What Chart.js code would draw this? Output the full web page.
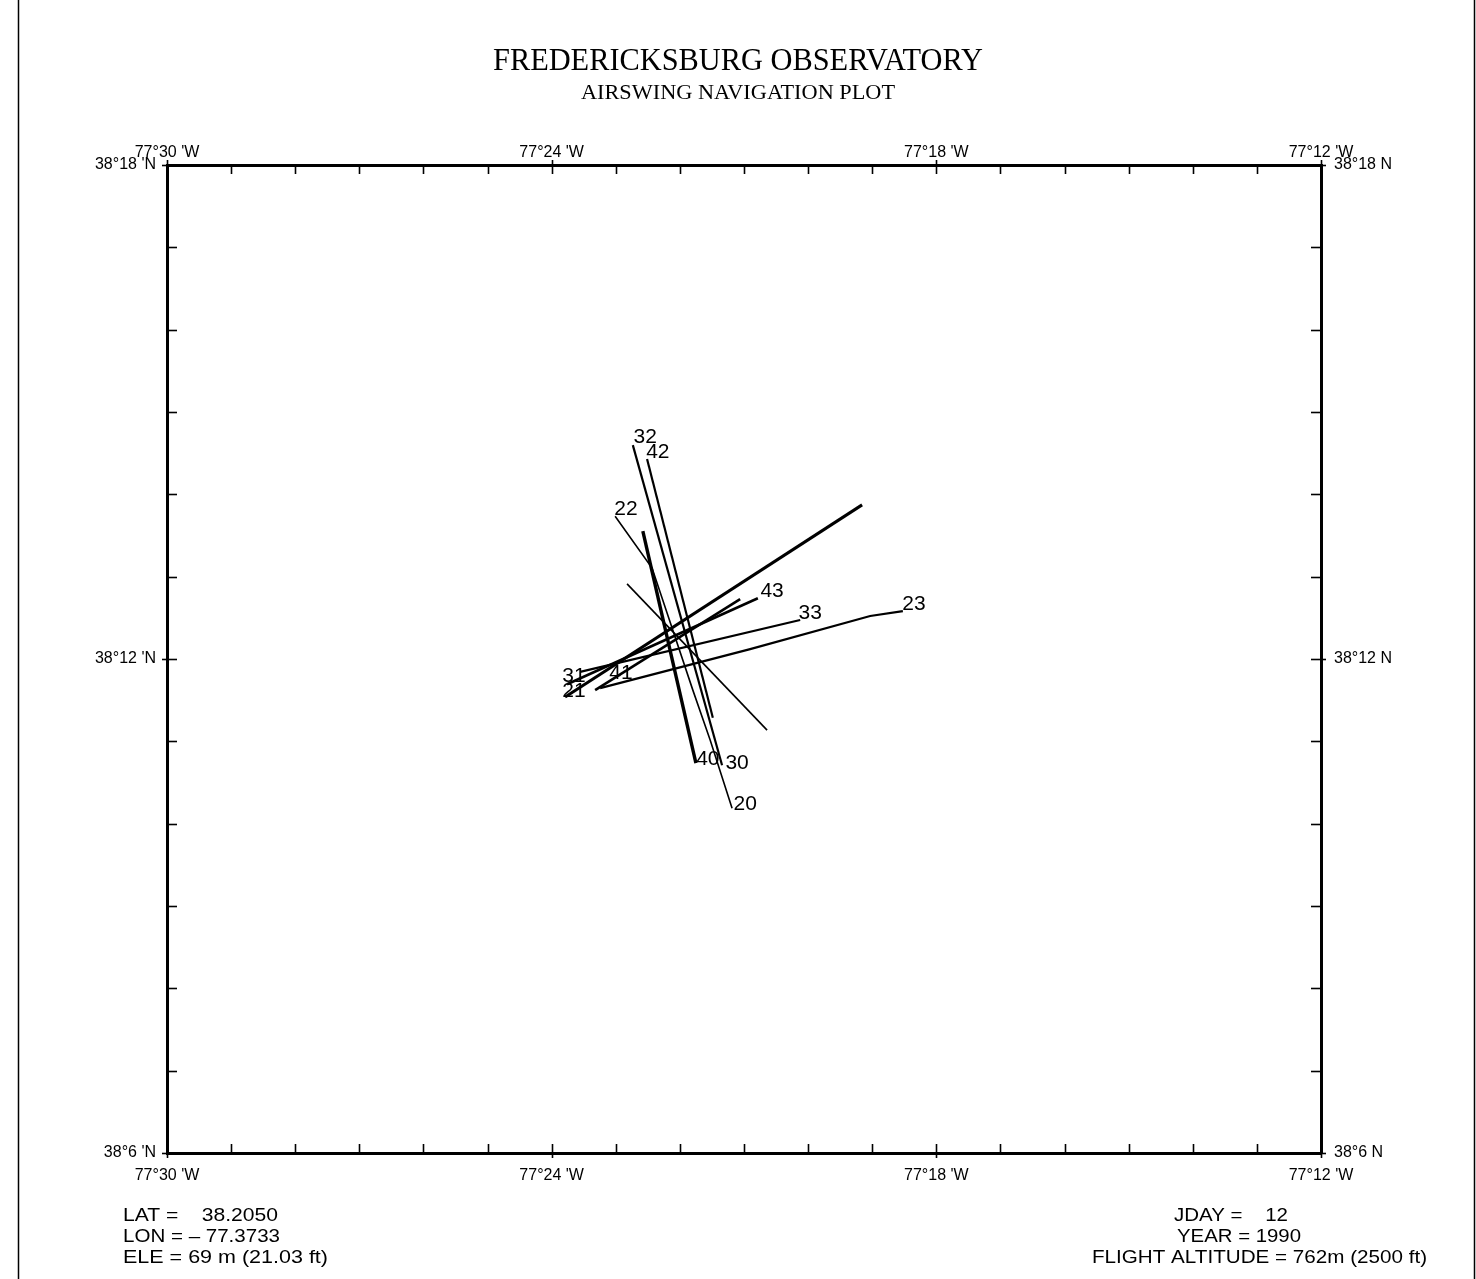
<!DOCTYPE html>
<html>
<head>
<meta charset="utf-8">
<title>Fredericksburg Observatory - Airswing Navigation Plot</title>
<script src="https://cdn.jsdelivr.net/npm/chart.js@4.4.1/dist/chart.umd.min.js"></script>
<style>
  html, body { margin: 0; padding: 0; background: #fff; }
  #wrap { position: relative; width: 1476px; height: 1279px; }
</style>
</head>
<body>
<div id="wrap"><canvas id="nav"></canvas></div>
<script>
// flight legs as [lon, lat] in decimal degrees (west is negative)
const leg20_22 = [[-77.3835, 38.2289], [-77.3739, 38.2184], [-77.3633, 38.1937], [-77.3588, 38.1836], [-77.3531, 38.1698]];
const leg23 = [[-77.3874, 38.1941], [-77.3484, 38.2020], [-77.3172, 38.2087], [-77.3087, 38.2097]];
const leg30_32 = [[-77.3789, 38.2433], [-77.3557, 38.1785]];
const leg31 = [[-77.3965, 38.1923], [-77.3193, 38.2312]];
const leg33 = [[-77.3926, 38.1974], [-77.3354, 38.2079]];
const leg40 = [[-77.3763, 38.2259], [-77.3625, 38.1789]];
const leg41 = [[-77.3887, 38.1937], [-77.3510, 38.2121]];
const leg42 = [[-77.3752, 38.2405], [-77.3581, 38.1881]];
const leg43 = [[-77.3960, 38.1949], [-77.3464, 38.2123]];
const legCross = [[-77.3804, 38.2152], [-77.3440, 38.1856]];

// leg numbers written on the plot
const legLabelText = ["32", "42", "22", "43", "33", "23", "40", "30", "20", "31", "21", "41"];
const legLabelLon = [-77.3757, -77.3724, -77.3807, -77.3427, -77.3328, -77.3058, -77.3594, -77.3518, -77.3497, -77.3942, -77.3942, -77.3820];
const legLabelLat = [38.2449, 38.2419, 38.2304, 38.2138, 38.2093, 38.2111, 38.1798, 38.1789, 38.1706, 38.1966, 38.1935, 38.1972];

// axis range and tick labels (one tick per arc minute, label every 6')
const lonMin = -77.5, lonMax = -77.2;
const latMin = 38.1, latMax = 38.3;
const lonTickLabels = ["77°30 'W", "77°24 'W", "77°18 'W", "77°12 'W"];
const latTickLabelsLeft = ["38°6 'N", "38°12 'N", "38°18 'N"];
const latTickLabelsRight = ["38°6 N", "38°12 N", "38°18 N"];

const headerLines = ["FREDERICKSBURG OBSERVATORY", "AIRSWING NAVIGATION PLOT"];
const footerLeft = ["LAT =    38.2050", "LON = \u2013 77.3733", "ELE = 69 m (21.03 ft)"];
const footerRight = ["JDAY =    12", "YEAR = 1990", "FLIGHT ALTITUDE = 762m (2500 ft)"];

const legs = [
    { data: leg20_22, width: 1.6 },
    { data: leg23, width: 2.2 },
    { data: leg30_32, width: 2.2 },
    { data: leg31, width: 3 },
    { data: leg33, width: 2.2 },
    { data: leg40, width: 3.4 },
    { data: leg41, width: 2.6 },
    { data: leg42, width: 2.2 },
    { data: leg43, width: 2.6 },
    { data: legCross, width: 1.6 },
];

function minuteTicks(min, count) {
    const t = [];
    for (let i = 0; i <= count; i++) t.push({ value: min + i / 60 });
    return t;
}

const tickFont = { family: "Liberation Sans", size: 16 };

function axis(position, min, max, count, labels, size, padding) {
    const horizontal = position === "top" || position === "bottom";
    return {
        type: "linear",
        position: position,
        min: min,
        max: max,
        afterBuildTicks: (s) => { s.ticks = minuteTicks(min, count); },
        afterFit: (s) => { if (horizontal) s.height = size; else s.width = size; },
        grid: { display: false },
        border: { display: true, color: "#000", width: 3 },
        ticks: {
            autoSkip: false,
            maxRotation: 0,
            padding: padding,
            color: "#000",
            font: tickFont,
            callback: (v, i) => (i % 6 === 0 ? labels[i / 6] : ""),
        },
    };
}

// short tick marks pointing into the plot frame
const inwardTicks = {
    id: "inwardTicks",
    afterDraw(chart) {
        const { ctx, chartArea: a } = chart;
        ctx.save();
        ctx.strokeStyle = "#000";
        ctx.lineWidth = 1.6;
        ["x", "x2", "y", "y2"].forEach((id) => {
            const s = chart.scales[id];
            s.ticks.forEach((t, i) => {
                const p = Math.round(s.getPixelForValue(t.value)) + 0.5;
                const out = i % 6 === 0 ? 5 : 0;
                ctx.beginPath();
                if (id === "x2") { ctx.moveTo(p, a.top - out); ctx.lineTo(p, a.top + 9); }
                if (id === "x") { ctx.moveTo(p, a.bottom + out); ctx.lineTo(p, a.bottom - 9); }
                if (id === "y") { ctx.moveTo(a.left - out, p); ctx.lineTo(a.left + 10, p); }
                if (id === "y2") { ctx.moveTo(a.right + out, p); ctx.lineTo(a.right - 10, p); }
                ctx.stroke();
            });
        });
        ctx.restore();
    },
};

const legLabels = {
    id: "legLabels",
    afterDatasetsDraw(chart) {
        const { ctx, scales } = chart;
        ctx.save();
        ctx.fillStyle = "#000";
        ctx.font = '21px "Liberation Sans"';
        ctx.textAlign = "center";
        ctx.textBaseline = "middle";
        legLabelText.forEach((txt, i) => {
            ctx.fillText(txt, scales.x.getPixelForValue(legLabelLon[i]), scales.y.getPixelForValue(legLabelLat[i]));
        });
        ctx.restore();
    },
};

function fitText(ctx, text, x, y, width, align) {
    const w = ctx.measureText(text).width;
    ctx.save();
    ctx.translate(x, y);
    ctx.scale(width / w, 1);
    ctx.textAlign = align;
    ctx.fillText(text, 0, 0);
    ctx.restore();
}

const pageText = {
    id: "pageText",
    afterDraw(chart) {
        const ctx = chart.ctx;
        ctx.save();
        ctx.fillStyle = "#000";
        ctx.textBaseline = "alphabetic";

        ctx.font = '31px "Liberation Serif"';
        fitText(ctx, headerLines[0], 738, 70, 490, "center");
        ctx.font = '22px "Liberation Serif"';
        fitText(ctx, headerLines[1], 738, 99, 314, "center");

        ctx.font = '19px "Liberation Sans"';
        const leftW = [155, 157, 205];
        footerLeft.forEach((t, i) => fitText(ctx, t, 123, 1221 + i * 21, leftW[i], "left"));
        const rightX = [1174, 1177, 1092];
        const rightW = [114, 124, 335];
        footerRight.forEach((t, i) => fitText(ctx, t, rightX[i], 1221 + i * 21, rightW[i], "left"));

        // page edges from the scan
        ctx.strokeStyle = "#000";
        ctx.lineWidth = 1.5;
        ctx.beginPath();
        ctx.moveTo(18.5, 0);
        ctx.lineTo(18.5, 1279);
        ctx.moveTo(1474.5, 0);
        ctx.lineTo(1474.5, 1279);
        ctx.stroke();
        ctx.restore();
    },
};

const ctx = document.getElementById("nav").getContext("2d");
new Chart(ctx, {
    type: "scatter",
    data: {
        datasets: legs.map((leg) => ({
            data: leg.data.map(([x, y]) => ({ x, y })),
            showLine: true,
            borderColor: "#000",
            borderWidth: leg.width,
            pointRadius: 0,
            tension: 0,
            xAxisID: "x",
            yAxisID: "y",
        })),
    },
    options: {
        responsive: true,
        maintainAspectRatio: false,
        animation: false,
        layout: { padding: 0 },
        plugins: {
            legend: { display: false },
            title: { display: false },
            tooltip: { enabled: false },
        },
        scales: {
            x: axis("bottom", lonMin, lonMax, 18, lonTickLabels, 126, 5),
            x2: axis("top", lonMin, lonMax, 18, lonTickLabels, 165, -5),
            y: axis("left", latMin, latMax, 12, latTickLabelsLeft, 167, 3),
            y2: axis("right", latMin, latMax, 12, latTickLabelsRight, 155, 5),
        },
    },
    plugins: [inwardTicks, legLabels, pageText],
});
</script>
</body>
</html>
